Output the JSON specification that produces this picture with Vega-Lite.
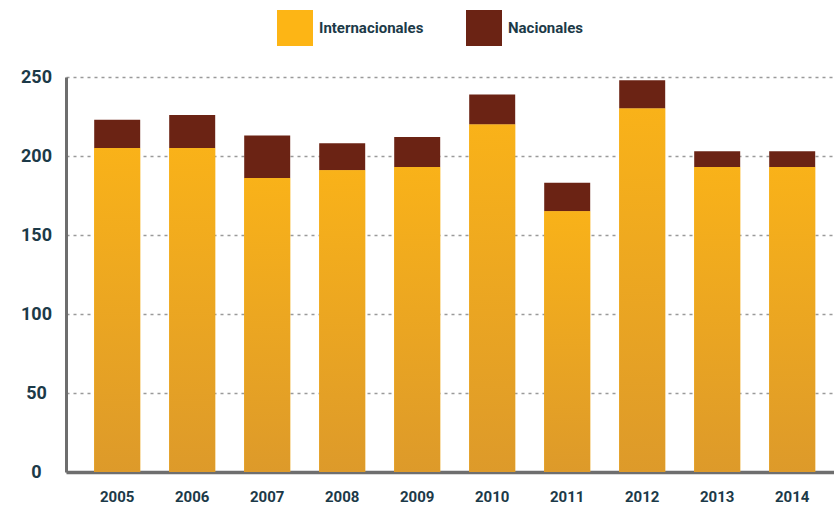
{
  "$schema": "https://vega.github.io/schema/vega-lite/v6.json",
  "width": 768,
  "height": 395,
  "autosize": {"type": "none"},
  "padding": {"left": 66, "top": 77, "right": 0, "bottom": 38},
  "background": "white",
  "config": {"view": {"stroke": null}},
  "data": {
    "values": [
      {"year": "2005", "tipo": "Internacionales", "value": 205},
      {"year": "2005", "tipo": "Nacionales", "value": 18},
      {"year": "2006", "tipo": "Internacionales", "value": 205},
      {"year": "2006", "tipo": "Nacionales", "value": 21},
      {"year": "2007", "tipo": "Internacionales", "value": 186},
      {"year": "2007", "tipo": "Nacionales", "value": 27},
      {"year": "2008", "tipo": "Internacionales", "value": 191},
      {"year": "2008", "tipo": "Nacionales", "value": 17},
      {"year": "2009", "tipo": "Internacionales", "value": 193},
      {"year": "2009", "tipo": "Nacionales", "value": 19},
      {"year": "2010", "tipo": "Internacionales", "value": 220},
      {"year": "2010", "tipo": "Nacionales", "value": 19},
      {"year": "2011", "tipo": "Internacionales", "value": 165},
      {"year": "2011", "tipo": "Nacionales", "value": 18},
      {"year": "2012", "tipo": "Internacionales", "value": 230},
      {"year": "2012", "tipo": "Nacionales", "value": 18},
      {"year": "2013", "tipo": "Internacionales", "value": 193},
      {"year": "2013", "tipo": "Nacionales", "value": 10},
      {"year": "2014", "tipo": "Internacionales", "value": 193},
      {"year": "2014", "tipo": "Nacionales", "value": 10}
    ]
  },
  "encoding": {
    "x": {
      "field": "year",
      "type": "ordinal",
      "scale": {"paddingInner": 0.3867, "paddingOuter": 0.3133, "align": 0.6},
      "axis": {
        "title": null,
        "labelAngle": 0,
        "ticks": false,
        "domainColor": "#6E6E6E",
        "domainWidth": 3.5,
        "labelFont": "Roboto",
        "labelFontWeight": "bold",
        "labelFontSize": 15,
        "labelColor": "#1C3A48",
        "labelPadding": 17
      }
    }
  },
  "layer": [
    {
      "mark": {"type": "bar"},
      "encoding": {
        "y": {
          "field": "value",
          "type": "quantitative",
          "stack": "zero",
          "scale": {"domain": [0, 250], "nice": false},
          "axis": {
            "title": null,
            "values": [0, 50, 100, 150, 200, 250],
            "grid": true,
            "gridColor": "#9A9A9A",
            "gridDash": [3, 4],
            "gridWidth": 1.6,
            "ticks": false,
            "domainColor": "#6E6E6E",
            "domainWidth": 3,
            "labelFont": "Roboto",
            "labelFontWeight": "bold",
            "labelFontSize": 18,
            "labelColor": "#1C3A48",
            "labelAlign": "center",
            "labelPadding": 30
          }
        },
        "color": {
          "field": "tipo",
          "type": "nominal",
          "scale": {"domain": ["Internacionales", "Nacionales"], "range": ["#FDB515", "#6B2314"]},
          "legend": {
            "title": null,
            "orient": "none",
            "direction": "horizontal",
            "legendX": 211,
            "legendY": -67,
            "symbolType": "square",
            "symbolSize": 1296,
            "symbolStrokeWidth": 0,
            "labelFont": "Roboto",
            "labelFontWeight": "bold",
            "labelFontSize": 15,
            "labelColor": "#1C3A48",
            "labelOffset": 6,
            "columnPadding": 42,
            "padding": 0
          }
        },
        "order": {"field": "tipo", "sort": "ascending"}
      }
    },
    {
      "transform": [{"filter": "datum.tipo === 'Internacionales'"}],
      "mark": {
        "type": "bar",
        "fill": {
          "gradient": "linear",
          "x1": 0, "y1": 0, "x2": 0, "y2": 1,
          "stops": [
            {"offset": 0, "color": "#F9B219"},
            {"offset": 1, "color": "#DD9A2A"}
          ]
        }
      },
      "encoding": {
        "y": {"field": "value", "type": "quantitative", "stack": null}
      }
    }
  ]
}
